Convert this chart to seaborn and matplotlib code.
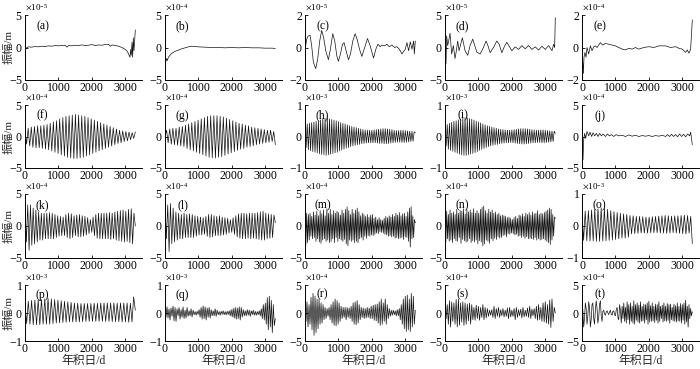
import matplotlib
matplotlib.use("Agg")
import matplotlib.pyplot as plt
import numpy as np
import seaborn as sns
from matplotlib.ticker import ScalarFormatter

# ---- data (values in units of the panel's power of ten) ----
LABELS = ["(a)", "(b)", "(c)", "(d)", "(e)", "(f)", "(g)", "(h)", "(i)", "(j)",
          "(k)", "(l)", "(m)", "(n)", "(o)", "(p)", "(q)", "(r)", "(s)", "(t)"]
EXPONENTS = [-5, -4, -5, -5, -4, -4, -4, -3, -3, -4,
             -4, -4, -4, -4, -3, -3, -3, -4, -4, -4]
LIMITS = [5, 5, 2, 5, 2, 5, 5, 1, 1, 5,
          5, 5, 5, 5, 1, 1, 1, 5, 5, 5]
X_TICKS = [0, 1000, 2000, 3000]
LAST_DAY = 3300

a_days = [0, 40, 100, 200, 300, 400, 500, 600, 700, 800, 900, 1000, 1100, 1200, 1260,
          1300, 1400, 1500, 1600, 1700, 1800, 1900, 2000, 2100, 2200, 2300, 2400, 2500,
          2550, 2600, 2700, 2800, 2900, 3000, 3060, 3100, 3140, 3160, 3180, 3200, 3220,
          3240, 3260, 3280, 3300]
a_vals = [0.1, -0.1, 0.1, 0.05, 0.15, 0.1, 0.2, 0.15, 0.25, 0.2, 0.3, 0.25, 0.3, 0.35, 0.05,
          0.3, 0.25, 0.35, 0.3, 0.4, 0.3, 0.35, 0.45, 0.3, 0.4, 0.35, 0.45, 0.5,
          0.2, 0.4, 0.3, 0.2, 0.0, -0.3, -0.6, -1.0, -1.5, -0.3, -1.2, 0.8, -1.5,
          1.5, -0.5, 1.0, 2.7]

b_days = [0, 15, 30, 50, 70, 100, 150, 200, 300, 400, 500, 600, 700, 800, 900, 1000,
          1200, 1400, 1600, 1800, 2000, 2200, 2400, 2600, 2800, 3000, 3200, 3300]
b_vals = [-1.3, -1.8, -2.1, -1.7, -2.0, -1.5, -1.2, -0.9, -0.6, -0.4, -0.2, -0.05, 0.1, 0.2,
          0.15, 0.1, 0.05, 0.0, 0.0, -0.05, 0.0, -0.05, 0.0, -0.05, -0.05, -0.1, -0.1, -0.15]

c_days = [0, 20, 50, 90, 150, 200, 250, 320, 380, 440, 500, 560, 620, 700, 760, 830, 890,
          950, 1000, 1060, 1120, 1170, 1230, 1300, 1360, 1430, 1500, 1560, 1630, 1700, 1770,
          1870, 1950, 2050, 2120, 2180, 2250, 2300, 2380, 2450, 2520, 2600, 2680, 2750,
          2820, 2900, 2950, 3000, 3050, 3100, 3150, 3200, 3250, 3270, 3300]
c_vals = [-0.7, 0.1, 0.5, 0.7, 0.75, 0.1, -0.9, -1.3, -0.7, 0.4, 1.05, 0.6, -0.2, -0.75,
          -0.1, 0.85, 0.4, -0.5, -0.85, -0.4, 0.2, 0.3, -0.2, -0.75, -0.4, 0.4, 0.85, 0.5,
          -0.1, -0.55, -0.1, 0.55, 0.1, -0.65, -0.1, 0.2, 0.05, 0.15, 0.1, 0.2, 0.05, 0.15,
          0.0, 0.05, -0.1, -0.4, -0.25, -0.1, 0.3, -0.2, 0.35, -0.1, 0.4, -0.4, 0.4]

d_days = [0, 30, 50, 80, 110, 150, 200, 250, 300, 340, 380, 420, 470, 520, 600, 680, 750,
          830, 890, 950, 1050, 1150, 1230, 1290, 1350, 1450, 1550, 1620, 1700, 1780, 1850,
          1920, 2000, 2100, 2200, 2300, 2400, 2500, 2600, 2700, 2800, 2900, 3000, 3100,
          3200, 3250, 3280, 3300]
d_vals = [1.8, -2.5, 1.8, 0.3, 1.0, 2.2, -1.0, 0.3, -1.7, -0.5, 1.0, -0.5, 0.5, 1.5, -0.5,
          -1.2, 0.3, 1.3, 0.3, -0.7, -1.0, 0.0, 1.0, 0.2, -0.8, 0.0, 1.0, 0.5, -0.8, 0.2,
          0.8, 0.2, -0.5, 0.1, -0.3, 0.3, -0.2, 0.3, -0.3, 0.1, -0.4, 0.2, -0.3, 0.3,
          -0.5, 0.5, 0.0, 4.6]

e_days = [0, 40, 60, 90, 120, 150, 200, 250, 300, 350, 400, 450, 550, 620, 700, 800, 900,
          1000, 1100, 1200, 1300, 1400, 1500, 1600, 1700, 1850, 2000, 2150, 2300, 2500,
          2650, 2800, 2900, 3000, 3100, 3150, 3200, 3250, 3300]
e_vals = [0.0, -1.6, -0.6, -0.3, -0.6, 0.0, -0.4, 0.1, -0.2, 0.05, 0.1, 0.0, 0.3, 0.15,
          0.25, 0.2, 0.15, 0.1, 0.0, -0.1, -0.15, -0.05, -0.1, 0.0, -0.1, 0.0, 0.05, 0.0,
          0.1, 0.1, 0.0, 0.05, -0.05, -0.1, -0.3, -0.15, -0.35, -0.1, 1.7]

# oscillating components: successive extremes, evenly spread over the record
f_vals = [1.0, -1.2, 1.3, -1.5, 1.5, -1.7, 1.6, -1.8, 1.7, -1.8, 1.7, -1.9, 1.8, -2.0, 1.9,
          -2.1, 2.1, -2.3, 2.3, -2.5, 2.5, -2.7, 2.8, -2.9, 3.0, -3.1, 3.2, -3.3, 3.3, -3.4,
          3.4, -3.5, 3.5, -3.5, 3.4, -3.4, 3.3, -3.3, 3.2, -3.1, 3.0, -2.9, 2.8, -2.7, 2.6,
          -2.5, 2.4, -2.3, 2.2, -2.1, 2.0, -1.9, 1.8, -1.7, 1.6, -1.5, 1.4, -1.3, 1.2, -1.1,
          1.0, -1.0, 0.9, -0.8, 0.8, -0.7, 0.7, -0.5, 0.6, -0.3, 0.7]
g_vals = [0.0, 1.0, -1.0, 1.2, -1.2, 1.3, -1.3, 1.3, -1.4, 1.5, -1.5, 1.6, -1.6, 1.8, -1.9,
          2.0, -2.1, 2.2, -2.3, 2.4, -2.5, 2.6, -2.7, 2.8, -2.9, 3.0, -3.1, 3.2, -3.3, 3.3,
          -3.4, 3.3, -3.4, 3.3, -3.3, 3.2, -3.2, 3.1, -3.0, 2.9, -2.8, 2.7, -2.6, 2.5, -2.4,
          2.3, -2.2, 2.1, -2.0, 2.0, -1.9, 1.8, -1.7, 1.7, -1.6, 1.5, -1.5, 1.4, -1.3, 1.3,
          -1.2, 1.2, -1.1, 1.1, -1.0, 1.0, -0.9, 1.0, -0.8, 0.8, -1.3]
h_vals = [0.55, -0.35, 0.40, -0.42, 0.42, -0.45, 0.44, -0.48, 0.46, -0.50,
          0.48, -0.52, 0.50, -0.55, 0.53, -0.57, 0.56, -0.58, 0.58, -0.60,
          0.58, -0.58, 0.56, -0.56, 0.54, -0.54, 0.52, -0.52, 0.50, -0.50,
          0.47, -0.46, 0.44, -0.43, 0.42, -0.40, 0.40, -0.37, 0.37, -0.35,
          0.34, -0.32, 0.32, -0.30, 0.30, -0.28, 0.28, -0.26, 0.26, -0.25,
          0.24, -0.23, 0.22, -0.22, 0.21, -0.21, 0.20, -0.20, 0.20, -0.20,
          0.20, -0.20, 0.21, -0.20, 0.22, -0.21, 0.23, -0.22, 0.24, -0.22,
          0.25, -0.23, 0.25, -0.23, 0.24, -0.22, 0.23, -0.21, 0.22, -0.20,
          0.20, -0.19, 0.19, -0.18, 0.19, -0.18, 0.20, -0.19, 0.20, -0.19,
          0.19, -0.18, 0.18, -0.17, 0.17, -0.16, 0.16, -0.15, 0.15, 0.12]
i_vals = [0.40, -0.30, 0.38, -0.40, 0.42, -0.44, 0.45, -0.47, 0.48, -0.50,
          0.50, -0.53, 0.53, -0.56, 0.56, -0.58, 0.58, -0.60, 0.60, -0.60,
          0.59, -0.58, 0.57, -0.56, 0.55, -0.54, 0.52, -0.51, 0.49, -0.48,
          0.46, -0.44, 0.43, -0.41, 0.40, -0.38, 0.37, -0.35, 0.34, -0.32,
          0.32, -0.30, 0.30, -0.28, 0.28, -0.26, 0.26, -0.25, 0.24, -0.23,
          0.23, -0.22, 0.22, -0.21, 0.21, -0.20, 0.20, -0.20, 0.20, -0.19,
          0.21, -0.20, 0.22, -0.21, 0.23, -0.22, 0.24, -0.23, 0.25, -0.24,
          0.25, -0.24, 0.25, -0.23, 0.24, -0.22, 0.23, -0.21, 0.22, -0.20,
          0.21, -0.20, 0.20, -0.19, 0.20, -0.19, 0.21, -0.20, 0.21, -0.20,
          0.20, -0.19, 0.19, -0.18, 0.18, -0.17, 0.17, -0.16, 0.17, 0.10]

j_days = [0, 30, 50, 80, 110, 150, 200, 240, 290, 330, 380, 430, 480, 530, 580, 630, 700,
          760, 820, 880, 950, 1020, 1100, 1200, 1300, 1400, 1500, 1600, 1700, 1800, 1900,
          2000, 2100, 2200, 2300, 2400, 2500, 2560, 2620, 2680, 2740, 2800, 2860, 2920,
          2980, 3040, 3100, 3160, 3220, 3250, 3300]
j_vals = [0.0, -3.7, -0.5, 0.5, -0.3, 0.8, 0.1, 0.7, 0.0, 0.6, 0.1, 0.5, 0.0, 0.5, 0.1, 0.4,
          0.0, 0.4, 0.1, 0.3, 0.0, 0.3, 0.1, 0.2, 0.0, 0.25, 0.05, 0.2, 0.0, 0.15, 0.05,
          0.15, 0.0, 0.15, 0.05, 0.2, 0.0, 0.3, 0.0, 0.35, 0.0, 0.3, -0.05, 0.4, 0.0, 0.35,
          -0.05, 0.4, 0.1, 0.7, -1.3]

k_vals = [3.5, -2.5, 3.3, -3.8, 3.3, -3.0, 2.8, -2.8, 2.5, -2.5,
          2.2, -2.2, 2.0, -2.2, 2.0, -2.0, 2.0, -2.0, 2.1, -2.0,
          2.0, -2.0, 1.8, -1.8, 1.6, -1.6, 1.5, -1.5, 1.4, -1.5,
          1.8, -1.8, 2.0, -2.0, 1.9, -1.8, 1.6, -1.5, 1.7, -1.7,
          1.8, -1.7, 1.6, -1.6, 1.5, -1.4, 1.3, -1.2, 1.0, -1.0,
          1.4, -1.5, 1.8, -1.9, 2.0, -2.0, 2.0, -2.0, 2.0, -2.0,
          2.0, -2.0, 2.1, -2.1, 2.0, -2.0, 2.2, -2.2, 2.3, -2.3,
          2.4, -2.4, 2.5, -2.5, 2.3, -2.4, 2.6, -2.6, 2.7, -2.8,
          2.0, 0.0]
l_vals = [3.5, -2.0, 3.3, -4.0, 3.5, -2.8, 2.8, -2.5, 2.2, -2.2,
          2.0, -2.0, 1.8, -2.0, 2.0, -1.8, 1.8, -1.8, 1.9, -1.8,
          1.8, -1.8, 1.6, -1.6, 1.5, -1.4, 1.4, -1.4, 1.3, -1.3,
          1.5, -1.6, 1.8, -1.8, 1.8, -1.7, 1.6, -1.5, 1.5, -1.5,
          1.6, -1.5, 1.4, -1.4, 1.3, -1.3, 1.2, -1.1, 1.0, -1.0,
          1.3, -1.3, 1.6, -1.7, 1.9, -1.9, 2.0, -2.0, 2.0, -2.0,
          1.9, -1.9, 2.0, -2.0, 2.0, -1.9, 2.0, -2.0, 2.1, -2.1,
          2.2, -2.2, 2.3, -2.2, 2.0, -2.0, 1.9, -1.9, 1.8, -1.8,
          1.7, 0.5]
m_vals = [3.3, -3.0, 2.0, -2.6, 1.8, -2.2, 2.0, -1.6, 1.5, -2.0,
          2.2, -1.8, 1.7, -2.4, 2.3, -2.0, 1.6, -2.5, 2.4, -2.7,
          1.9, -2.2, 2.5, -2.0, 1.6, -2.4, 2.7, -2.2, 2.0, -2.6,
          2.6, -2.4, 1.8, -2.0, 2.4, -2.6, 2.0, -1.8, 2.3, -2.4,
          2.1, -2.0, 1.7, -2.2, 2.5, -2.4, 2.0, -2.1, 2.6, -2.8,
          3.0, -3.1, 2.4, -2.2, 1.8, -2.4, 2.6, -2.2, 2.0, -2.6,
          2.5, -2.4, 2.8, -2.6, 2.2, -2.0, 1.6, -1.8, 2.0, -2.2,
          1.8, -1.6, 1.5, -1.9, 1.8, -1.5, 1.4, -1.6, 1.7, -1.4,
          1.8, -1.5, 1.2, -1.3, 1.4, -1.1, 1.0, -1.2, 1.3, -0.9,
          1.0, -1.0, 0.9, -1.1, 1.2, -1.3, 1.5, -1.4, 1.3, -1.6,
          1.6, -1.5, 1.4, -1.7, 1.8, -1.6, 1.5, -1.9, 2.0, -1.8,
          1.7, -2.0, 2.1, -1.9, 1.6, -1.8, 1.9, -2.1, 2.0, -1.7,
          1.5, -1.8, 2.2, -2.4, 2.8, -3.3, 3.0, -2.0, 1.6, -1.8,
          1.0, 0.5]
n_vals = [2.8, -2.5, 2.3, -2.0, 1.8, -2.4, 2.5, -2.2, 2.0, -2.6,
          2.2, -2.0, 1.8, -2.3, 2.6, -2.4, 2.0, -1.8, 2.4, -2.7,
          2.3, -2.1, 2.7, -2.3, 1.9, -2.5, 2.6, -2.4, 2.2, -2.0,
          2.5, -2.6, 2.1, -2.3, 2.7, -2.5, 2.0, -2.2, 2.4, -2.8,
          2.0, -2.3, 2.6, -2.5, 2.9, -3.1, 3.1, -2.8, 2.4, -2.2,
          2.0, -2.4, 2.6, -2.7, 2.2, -2.0, 2.5, -2.3, 2.0, -1.9,
          2.2, -2.1, 1.8, -1.7, 2.0, -1.9, 1.6, -1.8, 1.7, -1.5,
          1.6, -1.4, 1.5, -1.7, 1.3, -1.2, 1.4, -1.3, 1.2, -1.1,
          1.0, -1.2, 1.3, -1.4, 1.5, -1.3, 1.2, -1.6, 1.7, -1.5,
          1.6, -1.8, 1.9, -1.6, 1.5, -1.9, 2.0, -1.7, 1.8, -2.0,
          2.1, -1.9, 1.7, -2.0, 2.2, -2.1, 1.9, -1.8, 2.0, -2.2,
          2.4, -2.0, 1.8, -2.2, 2.0, -2.1, 1.9, -2.0, 2.1, -2.2,
          2.3, -2.4, 2.5, -2.6, 2.8, -2.9, 2.6, -2.2, 1.8, -1.6,
          1.4, 1.2]
o_vals = [0.45, -0.45, 0.47, -0.46, 0.48, -0.47, 0.50, -0.47, 0.52, -0.48,
          0.54, -0.48, 0.56, -0.47, 0.55, -0.46, 0.52, -0.45, 0.48, -0.44,
          0.45, -0.42, 0.42, -0.40, 0.40, -0.38, 0.38, -0.38, 0.36, -0.35,
          0.33, -0.25, 0.32, -0.24, 0.30, -0.23, 0.30, -0.22, 0.29, -0.22,
          0.28, -0.22, 0.28, -0.21, 0.29, -0.21, 0.30, -0.21, 0.31, -0.22,
          0.32, -0.22, 0.33, -0.23, 0.32, -0.22, 0.31, -0.21, 0.32, -0.22,
          0.32, -0.23, 0.33, -0.24, 0.34, -0.25, 0.33, -0.22, 0.30, -0.55]
p_vals = [0.35, -0.38, 0.42, -0.40, 0.45, -0.42, 0.46, -0.42, 0.47, -0.42,
          0.48, -0.40, 0.50, -0.40, 0.52, -0.40, 0.50, -0.38, 0.48, -0.36,
          0.46, -0.35, 0.44, -0.34, 0.42, -0.33, 0.40, -0.32, 0.38, -0.32,
          0.36, -0.32, 0.35, -0.32, 0.34, -0.31, 0.34, -0.30, 0.34, -0.30,
          0.34, -0.30, 0.35, -0.30, 0.35, -0.30, 0.36, -0.30, 0.36, -0.30,
          0.36, -0.30, 0.36, -0.31, 0.36, -0.31, 0.35, -0.31, 0.36, -0.32,
          0.36, -0.32, 0.36, -0.33, 0.35, -0.32, 0.58, 0.10]
q_vals = [0.20, -0.15, 0.22, -0.18, 0.15, -0.25, 0.18, -0.12, 0.25, -0.28,
          0.20, -0.30, 0.15, -0.10, 0.20, -0.22, 0.12, -0.15, 0.22, -0.20,
          0.10, -0.18, 0.20, -0.12, 0.08, -0.10, 0.15, -0.14, 0.10, -0.06,
          0.05, -0.08, 0.06, -0.05, 0.12, -0.15, 0.20, -0.22, 0.25, -0.20,
          0.22, -0.25, 0.18, -0.15, 0.20, -0.18, 0.12, -0.10, 0.08, -0.10,
          0.15, -0.12, 0.10, -0.06, 0.05, -0.08, 0.06, -0.05, 0.08, -0.06,
          0.05, -0.07, 0.06, -0.05, 0.08, -0.10, 0.12, -0.14, 0.16, -0.18,
          0.20, -0.22, 0.18, -0.20, 0.22, -0.25, 0.20, -0.15, 0.12, -0.10,
          0.08, -0.10, 0.12, -0.08, 0.10, -0.12, 0.08, -0.06, 0.10, -0.08,
          0.06, -0.08, 0.05, -0.06, 0.08, -0.10, 0.15, -0.20, 0.30, -0.25,
          0.35, -0.40, 0.55, -0.60, 0.60, -0.50, 0.45, -0.70, 0.30, -0.45,
          -0.20]
r_vals = [2.8, -1.5, 2.0, -2.5, 1.5, -2.0, 2.8, -3.0, 3.5, -4.0,
          3.0, -3.5, 2.5, -2.8, 2.5, -2.0, 1.8, -1.8, 1.5, -1.2,
          1.0, -1.0, 0.8, -0.6, 1.0, -1.2, 1.5, -1.8, 2.0, -2.2,
          2.5, -2.3, 2.2, -2.0, 1.8, -1.5, 1.2, -1.0, 1.0, -0.8,
          1.0, -1.2, 1.0, -0.8, 0.9, -1.0, 1.2, -1.5, 1.8, -2.0,
          2.0, -2.1, 2.2, -1.8, 1.5, -1.2, 1.0, -0.8, 0.9, -1.0,
          0.8, -0.9, 1.0, -0.8, 0.9, -1.0, 1.2, -1.0, 1.4, -1.3,
          1.5, -1.4, 1.6, -1.8, 2.0, -2.2, 2.5, -2.0, 1.8, -1.5,
          2.5, -2.0, 1.5, -1.0, 0.8, -0.6, 0.5, -0.4, 0.5, -0.3,
          0.4, -0.5, 0.6, -0.5, 0.8, -1.2, 1.5, -2.0, 2.5, -2.8,
          3.0, -3.3, 3.2, -3.0, 2.5, -3.3, 3.5, -2.5, 3.0, -2.0,
          0.5]
s_vals = [1.8, -1.0, 1.5, -2.0, 2.2, -2.5, 2.0, -1.5, 1.8, -2.0,
          2.4, -2.5, 2.5, -2.2, 1.8, -1.6, 2.0, -2.2, 1.8, -2.0,
          1.6, -1.4, 1.8, -2.0, 1.5, -1.2, 1.0, -1.3, 1.4, -1.0,
          1.2, -1.3, 1.0, -0.8, 1.5, -1.2, 1.0, -0.9, 0.8, -0.6,
          0.5, -0.4, 0.6, -0.8, 1.2, -1.0, 0.8, -0.6, 1.0, -0.8,
          0.6, -0.5, 0.8, -0.7, 0.5, -0.6, 0.9, -1.0, 1.0, -0.7,
          0.5, -0.6, 0.8, -1.2, 1.0, -0.8, 0.6, -0.5, 0.7, -0.9,
          1.0, -0.7, 0.5, -0.6, 0.9, -0.8, 1.2, -1.0, 0.7, -0.5,
          0.8, -1.0, 1.2, -1.3, 1.5, -1.2, 1.0, -1.5, 1.8, -1.6,
          2.0, -1.8, 1.5, -2.0, 2.3, -2.6, 2.5, -1.5, 1.0, 0.0]
t_vals = [2.8, 0.5, -2.5, -1.0, 1.8, 0.8, -2.0, -0.5, 2.0, 1.0,
          -2.5, -1.2, 1.5, 1.8, -1.0, -2.0, 0.5, 2.2, 0.8, -1.8,
          -0.8, 1.5, 2.2, -0.5, -1.5, 0.3, 0.5, -0.2, -0.4, 0.2,
          0.4, 0.0, -0.3, 0.2, 0.5, -0.2, -0.4, 0.3, 0.4, -0.3,
          -0.5, 0.6, 1.0, -0.8, -1.2, 1.5, 0.5, -1.8, 1.2, -1.0,
          1.8, -1.5, 1.0, -1.8, 2.0, -1.2, 1.5, -2.0, 1.8, -1.5,
          1.2, -1.8, 2.2, -2.0, 1.5, -1.3, 1.8, -1.6, 1.4, -1.8,
          2.0, -1.5, 1.2, -1.4, 1.6, -1.8, 1.5, -1.2, 1.8, -2.0,
          2.1, -1.6, 1.3, -1.5, 1.8, -1.4, 1.2, -1.7, 1.6, -1.3,
          1.5, -1.8, 2.0, -1.5, 1.2, -1.0, 1.4, -1.6, 1.8, -1.4,
          1.2, -1.5, 1.7, -1.3, 1.5, -1.8, 1.6, -1.2, 1.0, -1.4,
          1.6, -1.5, 1.3, -1.6, 1.8, -1.4, 1.2, -1.5, 1.7, -1.8,
          1.5, -1.3, 1.8, -2.0, 2.3, -1.6, 1.2, -2.5, 1.5, -1.0,
          0.8, -0.5, 0.2]

SERIES = [
    (a_days, a_vals), (b_days, b_vals), (c_days, c_vals), (d_days, d_vals), (e_days, e_vals),
    (None, f_vals), (None, g_vals), (None, h_vals), (None, i_vals), (j_days, j_vals),
    (None, k_vals), (None, l_vals), (None, m_vals), (None, n_vals), (None, o_vals),
    (None, p_vals), (None, q_vals), (None, r_vals), (None, s_vals), (None, t_vals),
]

# ---- layout (pixels of the 700x369 reference) ----
W, H = 700, 369
COL_LEFT = [25, 165, 305, 445, 582]
AX_W = 117
ROW_TOP = [15, 105, 194, 285]
ROW_H = [65, 63, 64, 56]

SERIF = ["Liberation Serif", "Noto Sans CJK SC"]

sns.set_theme(style="ticks")
plt.rcParams["font.family"] = SERIF
plt.rcParams["mathtext.fontset"] = "stix"
plt.rcParams["axes.unicode_minus"] = False


def main():
    fig = plt.figure(figsize=(W / 100, H / 100), dpi=100)
    fig.patch.set_facecolor("white")

    for idx, (days, vals) in enumerate(SERIES):
        row, col = divmod(idx, 5)
        scale = 10.0 ** EXPONENTS[idx]
        lim = LIMITS[idx] * scale
        vals = np.asarray(vals, dtype=float) * scale
        if days is None:
            days = np.linspace(0, LAST_DAY, len(vals))

        rect = [COL_LEFT[col] / W, 1 - (ROW_TOP[row] + ROW_H[row]) / H,
                AX_W / W, ROW_H[row] / H]
        ax = fig.add_axes(rect)
        ax.set_facecolor("white")
        sns.lineplot(x=np.asarray(days, dtype=float), y=vals, ax=ax, color="#111111",
                     linewidth=0.5, estimator=None, sort=False)

        ax.set_xlim(0, 3500)
        ax.set_ylim(-lim, lim)
        ax.set_xticks(X_TICKS)
        ax.set_yticks([-lim, 0, lim])
        fmt = ScalarFormatter(useMathText=True)
        fmt.set_powerlimits((0, 0))
        ax.yaxis.set_major_formatter(fmt)
        ax.yaxis.get_offset_text().set_fontsize(6.5)

        for side in ["top", "right"]:
            ax.spines[side].set_visible(False)
        for side in ["left", "bottom"]:
            ax.spines[side].set_linewidth(0.7)
            ax.spines[side].set_color("black")
        ax.tick_params(direction="in", length=2, width=0.6, labelsize=8.5,
                       pad=1.5, colors="black")
        ax.grid(False)

        ax.text(0.15, 0.83, LABELS[idx], transform=ax.transAxes, fontsize=8.5,
                ha="center", va="center", color="black")

        if col == 0:
            ax.set_ylabel("振幅/m", fontsize=8, family=SERIF)
            ax.yaxis.set_label_coords(-0.095, 0.5)
        else:
            ax.set_ylabel("")
        if row == 3:
            ax.set_xlabel("年积日/d", fontsize=8.5, labelpad=0, family=SERIF)
        else:
            ax.set_xlabel("")

    fig.savefig("out.png", dpi=100, facecolor="white")
    plt.close(fig)


if __name__ == "__main__":
    main()
